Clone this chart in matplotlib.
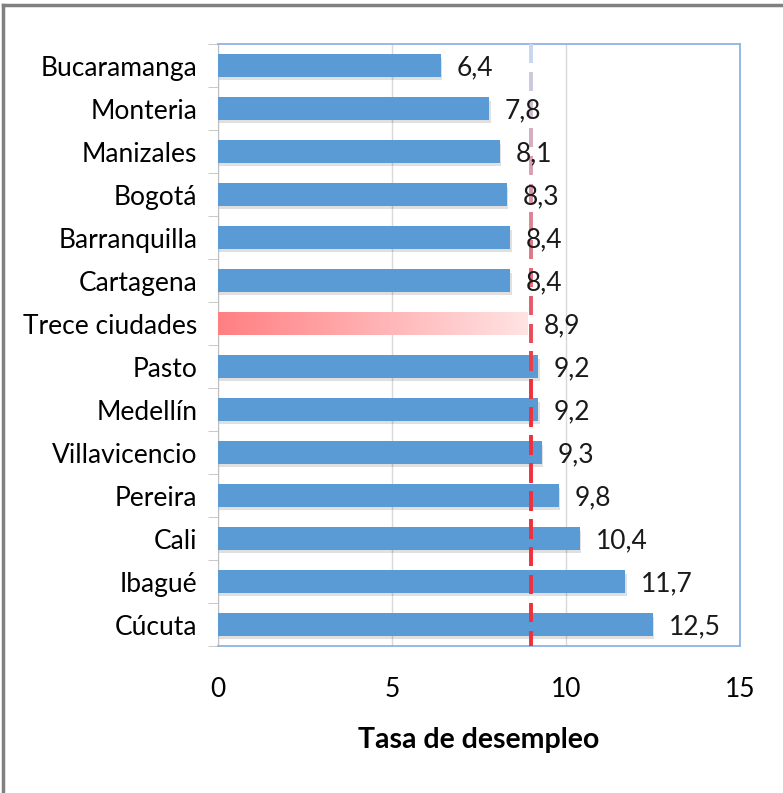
import numpy as np
import matplotlib.pyplot as plt
import matplotlib.patheffects as pe
from matplotlib.collections import LineCollection
from matplotlib.colors import LinearSegmentedColormap, to_rgb

plt.rcParams['font.family'] = ['Lato', 'DejaVu Sans']

ciudades = ['Bucaramanga', 'Monteria', 'Manizales', 'Bogotá', 'Barranquilla',
            'Cartagena', 'Trece ciudades', 'Pasto', 'Medellín', 'Villavicencio',
            'Pereira', 'Cali', 'Ibagué', 'Cúcuta']
tasa = [6.4, 7.8, 8.1, 8.3, 8.4, 8.4, 8.9, 9.2, 9.2, 9.3, 9.8, 10.4, 11.7, 12.5]
etiquetas = ['6,4', '7,8', '8,1', '8,3', '8,4', '8,4', '8,9', '9,2', '9,2', '9,3',
             '9,8', '10,4', '11,7', '12,5']
linea_ref = 9.0
xticks = [0, 5, 10, 15]

fig = plt.figure(figsize=(7.83, 7.93), dpi=100)
ax = fig.add_axes([218/783, 1-646/793, (740-218)/783, (646-44)/793])

y = np.arange(len(ciudades))
blue = '#5B9BD5'
shadow = [pe.SimplePatchShadow(offset=(1, -2.5), shadow_rgbFace='k', alpha=0.12), pe.Normal()]
bars = ax.barh(y, tasa, height=0.52, color=blue, zorder=3, path_effects=shadow)

# gradient bar for "Trece ciudades"
i = ciudades.index('Trece ciudades')
b = bars[i]
b.set_facecolor('none')
b.set_edgecolor('none')
b.set_path_effects([])
cmap = LinearSegmentedColormap.from_list('g', ['#FF7F82', '#FFE3E3'])
grad = np.linspace(0, 1, 256).reshape(1, -1)
im = ax.imshow(grad, cmap=cmap, aspect='auto', zorder=3.5,
               extent=[0, tasa[i], i + 0.26, i - 0.26])
im.set_clip_path(b)

# labels
for yi, v, t in zip(y, tasa, etiquetas):
    ax.text(v + 0.45, yi + 0.05, t, va='center', ha='left', fontsize=19, color='#1a1a1a', zorder=5)

# dashed reference line with colour fading from top to bottom
top_c = np.array(to_rgb('#C9D7EE'))
bot_c = np.array(to_rgb('#F0303A'))
segs, cols = [], []
y0 = -0.5
dash, gap = 0.45, 0.2
while y0 < len(ciudades) - 0.5:
    y1 = min(y0 + dash, len(ciudades) - 0.5)
    f = (y0 + 0.5) / len(ciudades)
    f = min(f * 1.8, 1.0)
    segs.append([(linea_ref, y0), (linea_ref, y1)])
    cols.append(top_c * (1 - f) + bot_c * f)
    y0 += dash + gap
ax.add_collection(LineCollection(segs, colors=cols, linewidths=2.8, zorder=4))

ax.set_xlim(0, 15)
ax.set_ylim(len(ciudades) - 0.5, -0.5)
ax.set_xticks(xticks)
ax.set_xticklabels([str(t) for t in xticks], fontsize=19)
ax.set_yticks(y)
ax.set_yticklabels(ciudades, fontsize=19)
ax.set_yticks(np.arange(-0.5, len(ciudades), 1), minor=True)
ax.tick_params(axis='y', which='major', length=0, pad=15)
ax.tick_params(axis='y', which='minor', length=7, color='#BFBFBF')
ax.tick_params(axis='x', length=0, pad=22)
ax.grid(axis='x', color='#D9D9D9', linewidth=1, zorder=0)
for s in ['top', 'right', 'bottom']:
    ax.spines[s].set_color('#8DB3E2')
    ax.spines[s].set_linewidth(1.3)
ax.spines['left'].set_color('#BFBFBF')
ax.set_xlabel('Tasa de desempleo', fontsize=20.5, fontweight='bold', labelpad=18)

# outer frame (top and left only)
fig.add_artist(plt.Line2D([3/783, 1], [1-5/793, 1-5/793], color='#808080', lw=2.5))
fig.add_artist(plt.Line2D([3/783, 3/783], [0, 1-5/793], color='#808080', lw=2.5))

fig.savefig('out.png', dpi=100)
